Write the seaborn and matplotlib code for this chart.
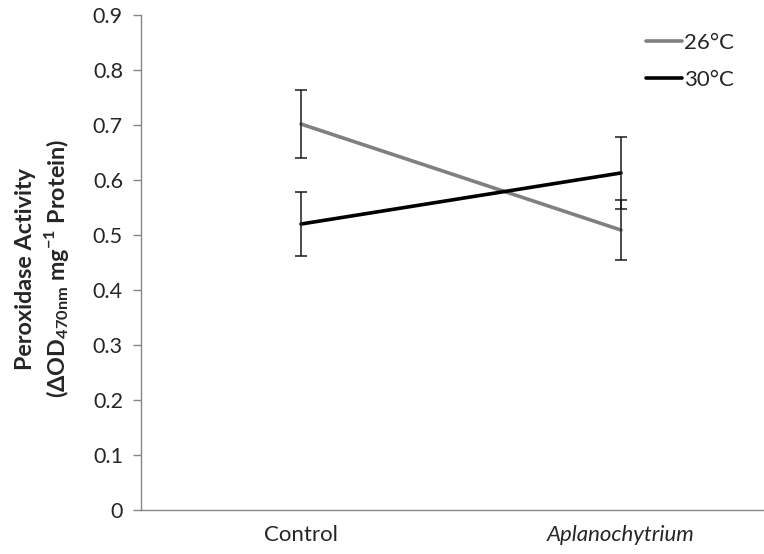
import matplotlib
matplotlib.use("Agg")
import matplotlib.pyplot as plt
import seaborn as sns
import pandas as pd
import numpy as np
from matplotlib.lines import Line2D

categories = ["Control", "Aplanochytrium"]
temps = ["26°C", "30°C"]
values_26 = [0.702, 0.509]
errors_26 = [0.062, 0.055]
values_30 = [0.520, 0.613]
errors_30 = [0.058, 0.066]
yticks = [0, 0.1, 0.2, 0.3, 0.4, 0.5, 0.6, 0.7, 0.8, 0.9]

sns.set_theme(style="white")
plt.rcParams["font.family"] = ["Lato", "DejaVu Sans"]
plt.rcParams["mathtext.fontset"] = "custom"
plt.rcParams["mathtext.rm"] = "Lato"
plt.rcParams["mathtext.bf"] = "Lato:bold"

df = pd.DataFrame({
    "cat": categories * 2,
    "x": [0, 1, 0, 1],
    "temp": [temps[0]] * 2 + [temps[1]] * 2,
    "val": values_26 + values_30,
    "err": errors_26 + errors_30,
})

fig = plt.figure(figsize=(7.64, 5.54), dpi=100)
ax = fig.add_axes([0.1846, 0.0800, 0.8377, 0.8924])

palette = {"26°C": "#808080", "30°C": "#000000"}
sns.lineplot(data=df, x="x", y="val", hue="temp", palette=palette,
             linewidth=2.6, ax=ax, legend=False, zorder=2)
for t in temps:
    sub = df[df["temp"] == t]
    ax.errorbar(sub["x"], sub["val"], yerr=sub["err"], fmt="none",
                ecolor="#1a1a1a", elinewidth=1.1, capsize=4.5, capthick=1.1, zorder=3)

ax.set_xlim(-0.5, 1.5)
ax.set_ylim(0, 0.9)
ax.set_yticks(yticks)
ax.set_yticklabels(["0"] + [f"{v:.1f}" for v in yticks[1:]], fontsize=15.5)
ax.set_xticks([0, 1])
ax.set_xticklabels(categories, fontsize=16)
ax.get_xticklabels()[1].set_style("italic")
ax.tick_params(axis="x", length=0, pad=11)
ax.tick_params(axis="y", length=6, width=1, color="#868686", direction="out", pad=7, left=True)

for s in ["top", "right"]:
    ax.spines[s].set_visible(False)
for s in ["left", "bottom"]:
    ax.spines[s].set_color("#868686")
    ax.spines[s].set_linewidth(1)

ax.set_xlabel("")
ax.set_ylabel("Peroxidase Activity\n(ΔOD$_{\\mathbf{470nm}}$ mg$^{\\mathbf{-1}}$ Protein)",
              fontsize=16.8, fontweight="bold", linespacing=1.25)
ax.yaxis.set_label_coords(71 / 764, 0.515, transform=fig.transFigure)

handles = [Line2D([], [], color=palette[t], lw=2.6) for t in temps]
leg = ax.legend(handles, temps, loc="upper left", bbox_to_anchor=(0.846, 0.94),
                bbox_transform=fig.transFigure, borderaxespad=0, borderpad=0,
                frameon=False, fontsize=16, handlelength=1.6, handletextpad=0.1,
                labelspacing=0.75)

fig.savefig("out.png", dpi=100)
